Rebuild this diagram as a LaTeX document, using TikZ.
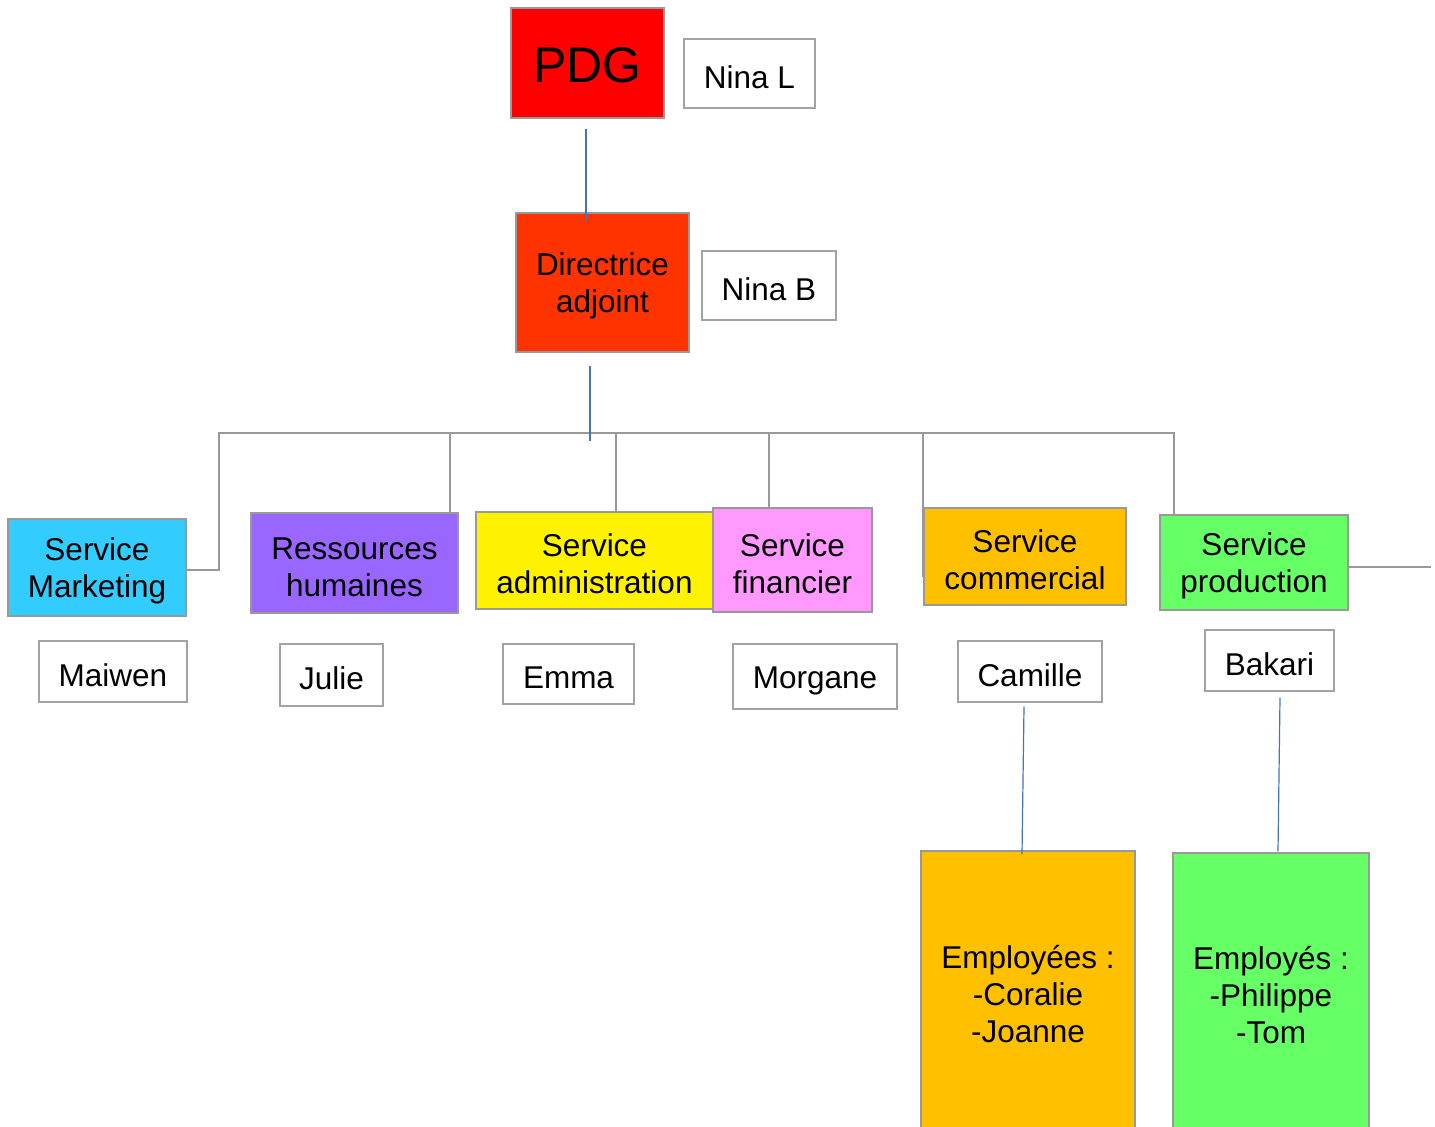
\documentclass[tikz,border=0pt]{standalone}
\usepackage{fontspec}
\setmainfont{Liberation Sans}
\usepackage{tikz}
\definecolor{cdir}{HTML}{FF3300}
\definecolor{cmarketing}{HTML}{33CCFF}
\definecolor{crh}{HTML}{9966FF}
\definecolor{cfinance}{HTML}{FF99FF}
\definecolor{ccommerce}{HTML}{FFC000}
\definecolor{cprod}{HTML}{66FF66}
\definecolor{cline}{HTML}{999999}
\definecolor{cblue}{HTML}{4472C4}
\newcommand\up{\rule{0pt}{0.95em}}

\begin{document}
\begin{tikzpicture}[x=0.5pt,y=-0.5pt,
  box/.style={rectangle,draw=cline,line width=0.6pt,inner sep=0pt,align=center,
    font=\fontsize{15.75}{18.5}\selectfont},
  name box/.style={box,fill=white,draw=cline!90},
  tree/.style={draw=cline,line width=0.6pt},
  link/.style={draw=cblue,line width=0.6pt}]
  \useasboundingbox (0,0) rectangle (1435,1126);
  \clip (0,0) rectangle (1435,1126);

  \node[box,fill=red,minimum width=76.5pt,minimum height=55pt,
    font=\fontsize{25}{30}\selectfont] (pdg) at (587.5,63) {\rule{0pt}{0.8em}PDG};
  \node[name box,minimum width=65.5pt,minimum height=34.5pt] (ninaL) at (749.5,73.5) {\up Nina L};
  \node[box,fill=cdir,minimum width=86.5pt,minimum height=69.5pt] (dir) at (602.5,282.5) {\up Directrice\\adjoint};
  \node[name box,minimum width=67pt,minimum height=34.5pt] (ninaB) at (769,285.5) {\up Nina B};

  % services
  \node[box,fill=cmarketing,minimum width=89pt,minimum height=48.5pt] (marketing) at (97,567.5) {\up Service\\Marketing};
  \node[box,fill=crh,minimum width=103.5pt,minimum height=50pt] (rh) at (354.5,563) {\up Ressources\\humaines};
  \node[box,fill=yellow,minimum width=118.5pt,minimum height=48.5pt] (admin) at (594.5,560.5) {\up Service\\administration};
  \node[box,fill=cfinance,minimum width=79.5pt,minimum height=52pt] (financier) at (792.5,560) {\up Service\\financier};
  \node[box,fill=ccommerce,minimum width=101pt,minimum height=48.5pt] (commercial) at (1025,556.5) {\up Service\\commercial};
  \node[box,fill=cprod,minimum width=94pt,minimum height=47.5pt] (production) at (1254,562.5) {\up Service\\production};

  % responsables
  \node[name box,minimum width=74pt,minimum height=30.5pt] (maiwen) at (113,671.5) {\up Maiwen};
  \node[name box,minimum width=51.5pt,minimum height=31pt] (julie) at (331.5,675) {\up Julie};
  \node[name box,minimum width=65.5pt,minimum height=30pt] (emma) at (568.5,674) {\up Emma};
  \node[name box,minimum width=82pt,minimum height=32.5pt] (morgane) at (815,676.5) {\up Morgane};
  \node[name box,minimum width=72pt,minimum height=30.5pt] (camille) at (1030,671.5) {\up Camille};
  \node[name box,minimum width=64.5pt,minimum height=30.5pt] (bakari) at (1269.5,660.5) {\up Bakari};

  \node[box,fill=ccommerce,minimum width=107pt,minimum height=139.5pt] (empCom) at (1028,990.5)
    {\up Employées :\\-Coralie\\-Joanne};
  \node[box,fill=cprod,minimum width=98pt,minimum height=138.5pt] (empProd) at (1271,991.5)
    {\up Employés :\\-Philippe\\-Tom};

  \coordinate (busL) at (219,433);
  \coordinate (busR) at (1174,433);
  \coordinate (tapRH) at (450,433);
  \coordinate (tapAdm) at (616,433);
  \coordinate (tapFin) at (769,433);
  \coordinate (tapCom) at (923,433);

  \draw[tree] ([yshift=-1.25pt]marketing.east) -| (busL) -- (busR) -- (busR |- production.north);
  \draw[tree] (tapRH) -- (tapRH |- rh.north);
  \draw[tree] (tapAdm) -- (tapAdm |- admin.north);
  \draw[tree] (tapFin) -- (tapFin |- financier.north);
  \draw[tree] (tapCom) -- ++(0,144);
  \draw[tree] ([yshift=-2.25pt]production.east) -- ++(82,0);

  \draw[link] ([shift={(-1.5,10)}]pdg.south) -- ([shift={(-1.5,9)}]pdg.south |- dir.north);
  \draw[link] ([shift={(-12.5,13)}]dir.south) -- ++(0,75);
  \draw[link] ([shift={(-6,4)}]camille.south) -- ([shift={(-6,4)}]empCom.north);
  \draw[link] ([shift={(10.5,6)}]bakari.south) -- ([shift={(7,-1)}]empProd.north);
\end{tikzpicture}
\end{document}
